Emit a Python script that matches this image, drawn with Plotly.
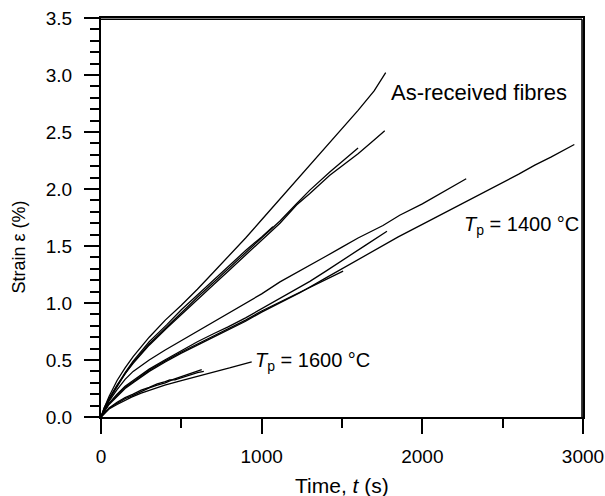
import plotly.graph_objects as go

# ---- data ----
# As-received fibres
a1_t = [0, 20, 50, 100, 150, 200, 300, 400, 500, 600, 700, 800, 900, 1000, 1100, 1200, 1300, 1400, 1500, 1600, 1700, 1772]
a1_e = [0, 0.08, 0.18, 0.32, 0.43, 0.53, 0.70, 0.85, 0.98, 1.12, 1.27, 1.42, 1.57, 1.73, 1.89, 2.05, 2.21, 2.37, 2.53, 2.69, 2.86, 3.02]
a2_t = [0, 20, 50, 100, 150, 200, 300, 410, 500, 600, 700, 800, 900, 1000, 1114, 1217, 1300, 1424, 1500, 1600, 1700, 1766]
a2_e = [0, 0.07, 0.15, 0.27, 0.38, 0.47, 0.63, 0.78, 0.90, 1.03, 1.16, 1.29, 1.42, 1.55, 1.70, 1.86, 1.96, 2.12, 2.20, 2.31, 2.43, 2.51]
a3_t = [0, 20, 50, 100, 150, 200, 300, 410, 500, 600, 700, 800, 900, 1000, 1114, 1217, 1300, 1424, 1500, 1600]
a3_e = [0, 0.07, 0.16, 0.28, 0.38, 0.48, 0.64, 0.79, 0.92, 1.05, 1.18, 1.31, 1.44, 1.57, 1.72, 1.87, 1.99, 2.15, 2.24, 2.36]
a4_t = [0, 20, 50, 100, 150, 200, 300, 410, 500, 600, 700, 800, 900, 1000, 1070]
a4_e = [0, 0.08, 0.16, 0.28, 0.39, 0.49, 0.66, 0.81, 0.94, 1.07, 1.20, 1.33, 1.46, 1.58, 1.67]

# Tp = 1400 C
p1_t = [0, 20, 50, 100, 150, 200, 300, 397, 500, 600, 700, 791, 900, 1000, 1114, 1238, 1400, 1500, 1600, 1755, 1859, 2000, 2100, 2200, 2273]
p1_e = [0, 0.06, 0.14, 0.24, 0.33, 0.40, 0.50, 0.585, 0.67, 0.75, 0.83, 0.91, 1.00, 1.08, 1.185, 1.28, 1.41, 1.49, 1.57, 1.68, 1.77, 1.87, 1.95, 2.03, 2.09]
p2_t = [0, 20, 50, 100, 150, 200, 300, 397, 500, 600, 700, 791, 900, 1000, 1100, 1238, 1400, 1500, 1600, 1714, 1850, 2000, 2150, 2273, 2400, 2500, 2600, 2700, 2800, 2946]
p2_e = [0, 0.05, 0.11, 0.18, 0.25, 0.30, 0.40, 0.48, 0.56, 0.63, 0.70, 0.76, 0.84, 0.92, 0.99, 1.09, 1.22, 1.30, 1.38, 1.47, 1.58, 1.69, 1.80, 1.89, 1.98, 2.05, 2.13, 2.21, 2.28, 2.39]
p3_t = [0, 20, 50, 100, 150, 200, 300, 397, 500, 600, 700, 791, 900, 1000, 1100, 1196, 1300, 1400, 1548, 1650, 1780]
p3_e = [0, 0.05, 0.12, 0.20, 0.27, 0.32, 0.42, 0.50, 0.58, 0.66, 0.73, 0.79, 0.87, 0.95, 1.03, 1.11, 1.19, 1.28, 1.42, 1.51, 1.63]
p4_t = [0, 20, 50, 100, 150, 200, 300, 397, 500, 600, 700, 791, 900, 1000, 1100, 1176, 1300, 1400, 1507]
p4_e = [0, 0.05, 0.12, 0.19, 0.26, 0.31, 0.41, 0.49, 0.57, 0.64, 0.71, 0.78, 0.85, 0.93, 1.00, 1.05, 1.14, 1.21, 1.28]

# Tp = 1600 C
q1_t = [0, 20, 50, 100, 150, 190, 250, 300, 397, 500, 600, 700, 741, 800, 870, 938]
q1_e = [0, 0.03, 0.07, 0.11, 0.15, 0.175, 0.21, 0.235, 0.28, 0.32, 0.36, 0.395, 0.41, 0.43, 0.455, 0.483]
q2_t = [0, 20, 50, 100, 150, 200, 250, 300, 350, 400, 450, 500, 550, 600, 627]
q2_e = [0, 0.03, 0.075, 0.12, 0.16, 0.19, 0.225, 0.255, 0.28, 0.30, 0.33, 0.355, 0.38, 0.40, 0.416]
q3_t = [0, 20, 50, 100, 150, 200, 250, 300, 350, 400, 428, 460, 500, 560, 600, 640]
q3_e = [0, 0.035, 0.08, 0.13, 0.17, 0.20, 0.235, 0.26, 0.29, 0.31, 0.325, 0.325, 0.345, 0.37, 0.39, 0.40]

curves = [(a1_t, a1_e), (a2_t, a2_e), (a3_t, a3_e), (a4_t, a4_e),
          (p1_t, p1_e), (p2_t, p2_e), (p3_t, p3_e), (p4_t, p4_e),
          (q1_t, q1_e), (q2_t, q2_e), (q3_t, q3_e)]

x_ticks = [0, 1000, 2000, 3000]
y_ticks = [0.0, 0.5, 1.0, 1.5, 2.0, 2.5, 3.0, 3.5]

FONT = "Liberation Sans, Arial, Helvetica, sans-serif"

fig = go.Figure()
for t, e in curves:
    fig.add_trace(go.Scatter(x=t, y=e, mode="lines",
                             line=dict(color="black", width=1.3),
                             showlegend=False, hoverinfo="skip"))

fig.update_layout(
    width=605, height=496,
    margin=dict(l=101, r=22, t=18, b=79, autoexpand=False),
    paper_bgcolor="white", plot_bgcolor="white",
    font=dict(family=FONT, color="black", size=19),
)
fig.update_xaxes(
    range=[0, 3000], tickvals=x_ticks, ticktext=[str(v) for v in x_ticks],
    ticks="outside", ticklen=15, tickwidth=2, tickcolor="black",
    showline=True, mirror=True, linecolor="black", linewidth=2, showgrid=False, zeroline=False,
    minor=dict(ticks="outside", ticklen=9, tickwidth=2, tickcolor="black", dtick=500, tick0=0, showgrid=False),
    tickfont=dict(size=19), ticklabelstandoff=6, automargin=False,
)
fig.update_yaxes(
    range=[0, 3.5], tickvals=y_ticks, ticktext=[f"{v:.1f}" for v in y_ticks],
    ticks="outside", ticklen=15, tickwidth=2, tickcolor="black",
    showline=True, mirror=True, linecolor="black", linewidth=2, showgrid=False, zeroline=False,
    minor=dict(ticks="outside", ticklen=9, tickwidth=2, tickcolor="black", dtick=0.1, tick0=0, showgrid=False),
    tickfont=dict(size=19), ticklabelstandoff=8, automargin=False,
)
# explicit top and right frame lines, placed just inside the plot edge
fig.add_shape(type="line", xref="paper", yref="paper", x0=0, x1=0.998, y0=0.997, y1=0.997,
              line=dict(color="black", width=1.6), layer="above")
fig.add_shape(type="line", xref="paper", yref="paper", x0=0.998, x1=0.998, y0=0, y1=0.997,
              line=dict(color="black", width=1.6), layer="above")

# axis titles
fig.add_annotation(text="Time, <i>t</i> (s)", xref="paper", yref="paper", x=0.5, y=-0.172,
                   xanchor="center", yanchor="middle", showarrow=False, font=dict(size=21))
fig.add_annotation(text="Strain ε (%)", xref="paper", yref="paper", x=-0.171, y=0.426,
                   xanchor="center", yanchor="middle", textangle=-90, showarrow=False, font=dict(size=18))

# curve labels
fig.add_annotation(text="As-received fibres", x=1790, y=2.85, xanchor="left", yanchor="middle",
                   showarrow=False, font=dict(size=22))
fig.add_annotation(text="<i>T</i><sub>p</sub> = 1400 °C", x=2245, y=1.68, xanchor="left", yanchor="middle",
                   showarrow=False, font=dict(size=20))
fig.add_annotation(text="<i>T</i><sub>p</sub> = 1600 °C", x=946, y=0.49, xanchor="left", yanchor="middle",
                   showarrow=False, font=dict(size=20))

fig.write_html(
    "out.html",
    config={"displayModeBar": False},
    post_script="document.body.style.margin='0';document.body.style.overflow='hidden';"
                "document.documentElement.style.overflow='hidden';",
)
